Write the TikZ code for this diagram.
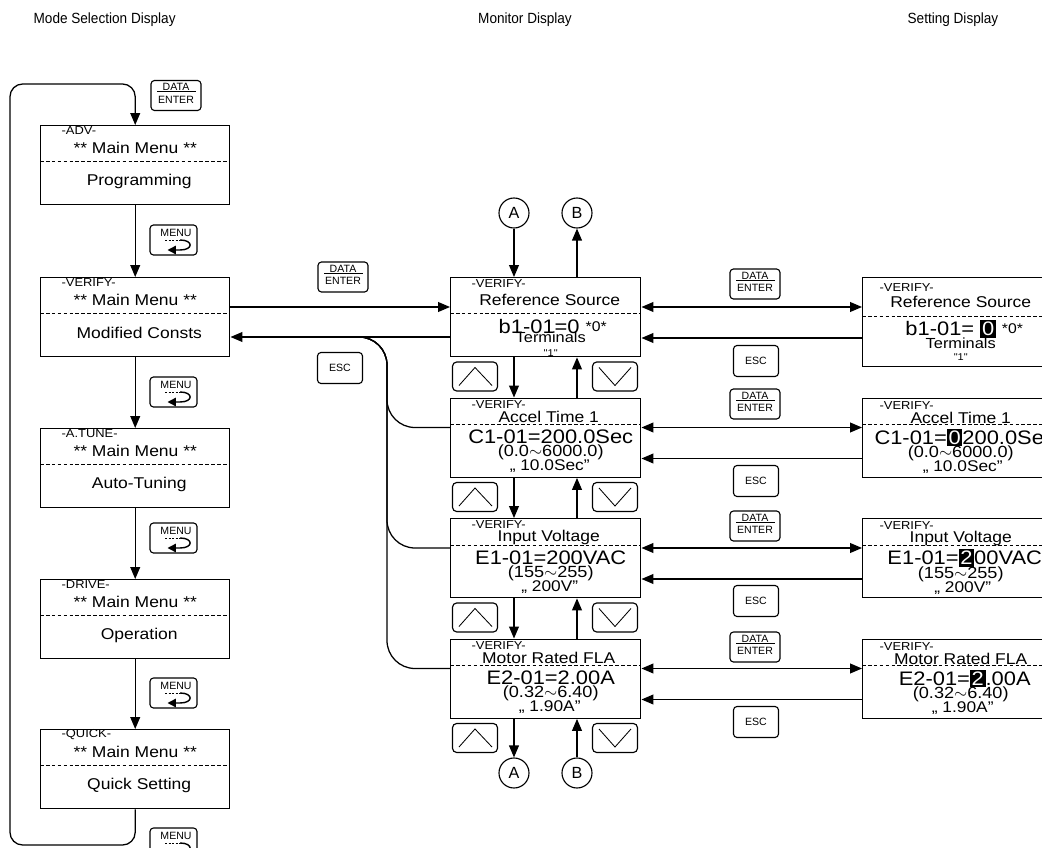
\documentclass[tikz,border=0pt]{standalone}
\usepackage{fontspec}
\setmainfont{Liberation Sans}
\newfontfamily\lcdfont[FakeStretch=1.12]{Liberation Sans}
\newfontfamily\headfont[FakeStretch=0.92]{Liberation Sans}
\usetikzlibrary{positioning,arrows.meta,calc}
\newcommand{\pxl}{0.7113pt}
\newcommand{\hilite}[1]{{\setlength{\fboxsep}{1.2pt}\colorbox{black}{\textcolor{white}{#1}}}}

\begin{document}
\begin{tikzpicture}[
  x=0.025cm, y=-0.025cm,
  >={Triangle[length=8.5pt,width=7pt]},
  line width=0.9pt,
  disp/.style={draw,line width=1pt,anchor=north west,minimum width=190*\pxl,minimum height=79*\pxl,inner sep=0pt},
  mode/.style={disp,minimum width=189*\pxl},
  sep/.style={line width=0.6pt,dash pattern=on 2.6pt off 1.6pt},
  tag/.style={anchor=west,inner sep=0pt,font=\lcdfont\fontsize{8.2}{9}\selectfont},
  ttl/.style={inner sep=0pt,font=\lcdfont\fontsize{11.1}{12}\selectfont},
  val/.style={inner sep=0pt,font=\lcdfont\fontsize{13.9}{14}\selectfont},
  rng/.style={inner sep=0pt,font=\lcdfont\fontsize{11.5}{12}\selectfont},
  tiny/.style={inner sep=0pt,font=\lcdfont\fontsize{7}{8}\selectfont},
  key/.style={draw,line width=0.8pt,rounded corners=2.5pt,minimum width=47*\pxl,minimum height=30*\pxl,inner sep=0pt,font=\fontsize{7.5}{8}\selectfont},
  keytxt/.style={inner sep=0pt,font=\fontsize{7.5}{8}\selectfont},
  arrkey/.style={key,rounded corners=3pt,minimum width=45*\pxl,minimum height=29*\pxl},
  conn/.style={circle,draw,line width=0.8pt,minimum size=30*\pxl,inner sep=0pt,font=\fontsize{11.5}{12}\selectfont},
  hdr/.style={inner sep=0pt,font=\headfont\fontsize{10.5}{12}\selectfont}
]
\useasboundingbox (0,0) rectangle (1042,848);

% column heads
\node[hdr,anchor=west] (hmode) at (33,20) {Mode Selection Display};
\node[hdr] (hmon) at (525,20) {Monitor Display};
\node[hdr,anchor=west] (hset) at (907,20) {Setting Display};

% mode selection column
\foreach \i/\t/\tg/\bd in {1/125/-ADV-/Programming,2/277/-VERIFY-/Modified Consts,
    3/428/-A.TUNE-/Auto-Tuning,4/579/-DRIVE-/Operation,5/729/-QUICK-/Quick Setting}{
  \node[mode] (md\i) at (40,\t) {};
  \draw[sep] ($(md\i.north west)+(0,36)$) -- ($(md\i.north east)+(0,36)$);
  \node[tag] (md\i-tag) at ($(md\i.north west)+(21,6)$) {\tg};
  \node[ttl] (md\i-ttl) at ($(md\i.north)+(0,22.5)$) {** Main Menu **};
  \node[ttl] (md\i-body) at ($(md\i.north)+(4,56)$) {\bd};
}
\foreach \a/\b in {1/2,2/3,3/4,4/5}
  \draw[->] (md\a) -- (md\b);
\draw[->,rounded corners=9pt] (md5.south) |- (10,845) -- (10,84) -| (md1.north);

% keys
\foreach \n/\x/\y in {mk1/173.5/240,mk2/173.5/392,mk3/173.5/538,mk4/173.5/693,mk5/173.5/843}{
  \node[key] (\n) at (\x,\y) {};
  \node[keytxt] (\n-txt) at ($(\n)+(2.5,-7)$) {MENU};
  \draw[line width=0.6pt,dash pattern=on 1.5pt off 1pt] ($(\n)+(-8.5,0)$) -- ($(\n)+(6.5,0)$);
  \draw[line width=1pt,-{Triangle[length=6pt,width=6pt]}] ($(\n)+(6.5,0)$)
    .. controls ($(\n)+(20,0)$) and ($(\n)+(20,10)$) .. ($(\n)+(6.5,10)$) -- ($(\n)+(-6,10)$);
}
\foreach \n/\x/\y in {dk0/176/95.5,dk1/343/277,dk2/755/284,dk3/755/404,dk4/755/526,dk5/755/647}{
  \node[key,minimum width=50*\pxl] (\n) at (\x,\y) {};
  \node[keytxt] (\n-a) at ($(\n)+(0,-8.5)$) {DATA};
  \node[keytxt] (\n-b) at ($(\n)+(0,4)$) {ENTER};
  \draw[line width=0.6pt] ($(\n)+(-19,-4)$) -- ($(\n)+(20,-4)$);
}
\foreach \n/\x/\y in {ek0/340/368,ek1/756/361,ek2/756/481,ek3/756/601,ek4/756/722}
  \node[key,minimum width=45*\pxl,minimum height=31*\pxl] (\n) at (\x,\y) {ESC};

% monitor and setting displays
\foreach \i/\t/\sh/\md/\sd/\sg in {1/277/89/36/39/11,2/397.5/79/27/27/8,3/518/79/27/27/8,4/638.5/79/27/27/8}{
  \node[disp] (mon\i) at (450,\t) {};
  \draw[sep] ($(mon\i.north west)+(0,\md)$) -- ($(mon\i.north east)+(0,\md)$);
  \node[tag] (mon\i-tag) at ($(mon\i.north west)+(21,7)$) {-VERIFY-};
  \node[disp,minimum width=196*\pxl,minimum height=\sh*\pxl] (set\i) at (862,\t) {};
  \draw[sep] ($(set\i.north west)+(0,\sd)$) -- ($(set\i.north east)+(0,\sd)$);
  \node[tag] (set\i-tag) at ($(set\i.north west)+(17,\sg)$) {-VERIFY-};
  \node[arrkey] (up\i) at (475,\t+99.5) {};
  \draw[line width=0.6pt] ($(up\i)+(-16,9)$) -- ($(up\i)+(0,-9)$) -- ($(up\i)+(17,9)$);
  \node[arrkey] (dn\i) at (615,\t+99.5) {};
  \draw[line width=0.6pt] ($(dn\i)+(-16,-9)$) -- ($(dn\i)+(0,9)$) -- ($(dn\i)+(16,-9)$);
  \draw[<->] ($(mon\i.north east)+(0,30)$) -- ($(set\i.north west)+(0,30)$);
  \draw[->] ($(set\i.north west)+(0,61)$) -- ($(mon\i.north east)+(0,61)$);
}

\node[ttl] (mon1-ttl) at ($(mon1.north)+(4,23)$) {Reference Source};
\node[val] (mon1-val) at ($(mon1.north)+(7,50)$) {b1-01=0 {\fontsize{10}{10}\selectfont\raisebox{1.5pt}{*0*}}};
\node[ttl,font=\lcdfont\fontsize{10.4}{11}\selectfont] (mon1-opt) at ($(mon1.north)+(5,60)$) {Terminals};
\node[tiny] (mon1-no) at ($(mon1.north)+(5,76)$) {"1"};
\node[ttl] (set1-ttl) at ($(set1.north)+(0,25)$) {Reference Source};
\node[val] (set1-val) at ($(set1.north)+(3.5,52)$) {b1-01= \hilite{0} {\fontsize{10}{10}\selectfont\raisebox{1.5pt}{*0*}}};
\node[ttl,font=\lcdfont\fontsize{10.4}{11}\selectfont] (set1-opt) at ($(set1.north)+(0,66)$) {Terminals};
\node[tiny] (set1-no) at ($(set1.north)+(0,80)$) {"1"};

\foreach \i/\nm/\mv/\sv/\rg/\df in {
    2/Accel Time 1/C1-01=200.0Sec/C1-01=\hilite{0}200.0Sec/(0.0$\sim$6000.0)/10.0Sec,
    3/Input Voltage/E1-01=200VAC/E1-01=\hilite{2}00VAC/(155$\sim$255)/200V,
    4/Motor Rated FLA/E2-01=2.00A/E2-01=\hilite{2}.00A/(0.32$\sim$6.40)/1.90A}{
  \node[ttl] (mon\i-ttl) at ($(mon\i.north)+(3,19)$) {\nm};
  \node[val] (mon\i-val) at ($(mon\i.north)+(5,39.5)$) {\mv};
  \node[rng] (mon\i-rng) at ($(mon\i.north)+(5,55)$) {\rg};
  \node[rng,font=\lcdfont\fontsize{11}{12}\selectfont] (mon\i-dft) at ($(mon\i.north)+(4,69)$) {„ \df”};
  \node[ttl] (set\i-ttl) at ($(set\i.north)+(0,20)$) {\nm};
  \node[val] (set\i-val) at ($(set\i.north)+(4,40)$) {\sv};
  \node[rng] (set\i-rng) at ($(set\i.north)+(0,56)$) {\rg};
  \node[rng,font=\lcdfont\fontsize{11}{12}\selectfont] (set\i-dft) at ($(set\i.north)+(2,70)$) {„ \df”};
}

% mode <-> monitor
\draw[->] ($(md2.north east)+(0,30)$) -- ($(mon1.north west)+(0,30)$);
\draw[->] ($(mon1.north west)+(0,60)$) -- ($(md2.north east)+(0,60)$);
\coordinate (escjoin) at (387,337);
\foreach \i in {2,3,4}
  \draw[rounded corners=0.7cm] ($(mon\i.north west)+(0,30)$) -| (escjoin) -- ++(-30,0);

% connectors A and B
\node[conn] (ca1) at (514,213) {A};
\node[conn] (cb1) at (577,213) {B};
\node[conn] (ca2) at (514,773) {A};
\node[conn] (cb2) at (577,773) {B};
\draw[->] (ca1) -- (ca1 |- mon1.north);
\draw[->] (cb1 |- mon1.north) -- (cb1);
\foreach \a/\b in {1/2,2/3,3/4}{
  \draw[->] (ca1 |- mon\a.south) -- (ca1 |- mon\b.north);
  \draw[->] (cb1 |- mon\b.north) -- (cb1 |- mon\a.south);
}
\draw[->] (ca1 |- mon4.south) -- (ca2);
\draw[->] (cb2) -- (cb1 |- mon4.south);
\end{tikzpicture}
\end{document}
